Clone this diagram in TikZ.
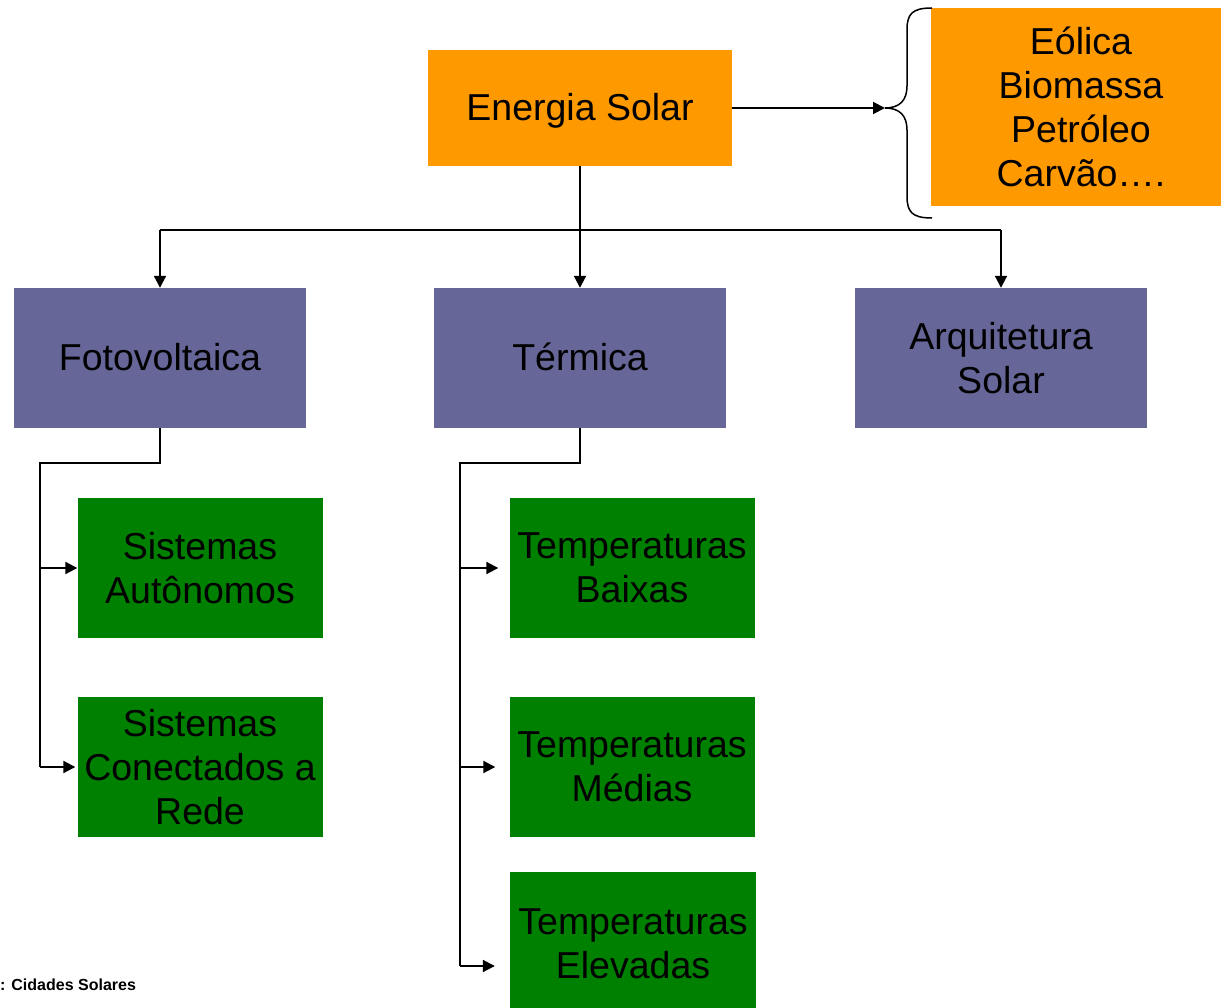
\documentclass[tikz,border=0pt]{standalone}
\usepackage{fontspec}
\setmainfont{Liberation Sans}
\usetikzlibrary{arrows.meta,positioning}

\definecolor{laranja}{HTML}{FF9900}
\definecolor{roxo}{HTML}{666699}
\definecolor{verde}{HTML}{008000}
\newcommand{\apoio}{\rule[-0.212em]{0pt}{1.117em}}

\begin{document}
\begin{tikzpicture}[x=1pt,y=-1pt,
    caixa/.style={rectangle, inner sep=0pt, align=center,
        font=\fontsize{37.5}{44}\selectfont},
    umalinha/.style={execute at begin node=\apoio},
    topo/.style={caixa, fill=laranja},
    ramo/.style={caixa, fill=roxo, minimum width=292pt, minimum height=140pt},
    folha/.style={caixa, fill=verde, minimum width=245pt, minimum height=140pt},
    linha/.style={line width=2pt},
    seta/.style={linha, -{Triangle[length=12pt,width=12pt]}}]
    \useasboundingbox (0,0) rectangle (1221,1008);

    % Top level boxes
    \node[topo, umalinha, minimum width=304pt, minimum height=116pt] (energia) at (580,108) {Energia Solar};
    \node[topo, minimum width=300pt, minimum height=198pt] (outras) at (1081,107) {Eólica\\Biomassa\\Petróleo\\Carvão….};

    % Brace in front of the other sources
    \coordinate (ponta) at (885,108);
    \draw[line width=1.5pt] (932,8) .. controls (912,8) and (907,14) .. (907,30)
        -- (907,86) .. controls (907,100) and (900,108) .. (ponta)
        .. controls (900,108) and (907,116) .. (907,130)
        -- (907,196) .. controls (907,212) and (912,218) .. (932,218);
    \draw[seta] (energia.east) -- (ponta);

    % Second level
    \node[ramo, umalinha] (foto) at (160,358) {Fotovoltaica};
    \node[ramo, umalinha] (termica) at (580,358) {Térmica};
    \node[ramo] (arq) at (1001,358) {Arquitetura\\Solar};

    \coordinate (barra) at (580,230);
    \draw[seta] (energia.south) -- (termica.north);
    \draw[linha] (foto.north |- barra) -- (arq.north |- barra);
    \draw[seta] (foto.north |- barra) -- (foto.north);
    \draw[seta] (arq.north |- barra) -- (arq.north);

    % Fotovoltaica branch
    \node[folha] (auto) at (200,568) {Sistemas\\Autônomos};
    \node[folha] (rede) at (200,767) {Sistemas\\Conectados a\\Rede};
    \coordinate (fbus) at (40,463);
    \draw[linha] (foto.south) |- (fbus) -- (fbus |- rede.west);
    \draw[seta] (fbus |- auto.west) -- (auto.west);
    \draw[seta] (fbus |- rede.west) -- ([xshift=-2pt]rede.west);

    % Termica branch
    \node[folha] (baixas) at (632,568) {Temperaturas\\Baixas};
    \node[folha] (medias) at (632,767) {Temperaturas\\Médias};
    \node[folha, minimum width=246pt, minimum height=144pt] (elevadas) at (633,944) {Temperaturas\\Elevadas};
    \coordinate (tbus) at (460,463);
    \coordinate (tfim) at (460,966);
    \draw[linha] (termica.south) |- (tbus) -- (tfim);
    \draw[seta, shorten >=11pt] (tbus |- baixas.west) -- (baixas.west);
    \draw[seta, shorten >=14pt] (tbus |- medias.west) -- (medias.west);
    \draw[seta, shorten >=15pt] (tfim) -- (tfim -| elevadas.west);

    % Source
    \node[anchor=west, inner sep=0pt, font=\fontsize{16}{18}\selectfont\bfseries] (fonte) at (0,985) {: Cidades Solares};
\end{tikzpicture}
\end{document}
